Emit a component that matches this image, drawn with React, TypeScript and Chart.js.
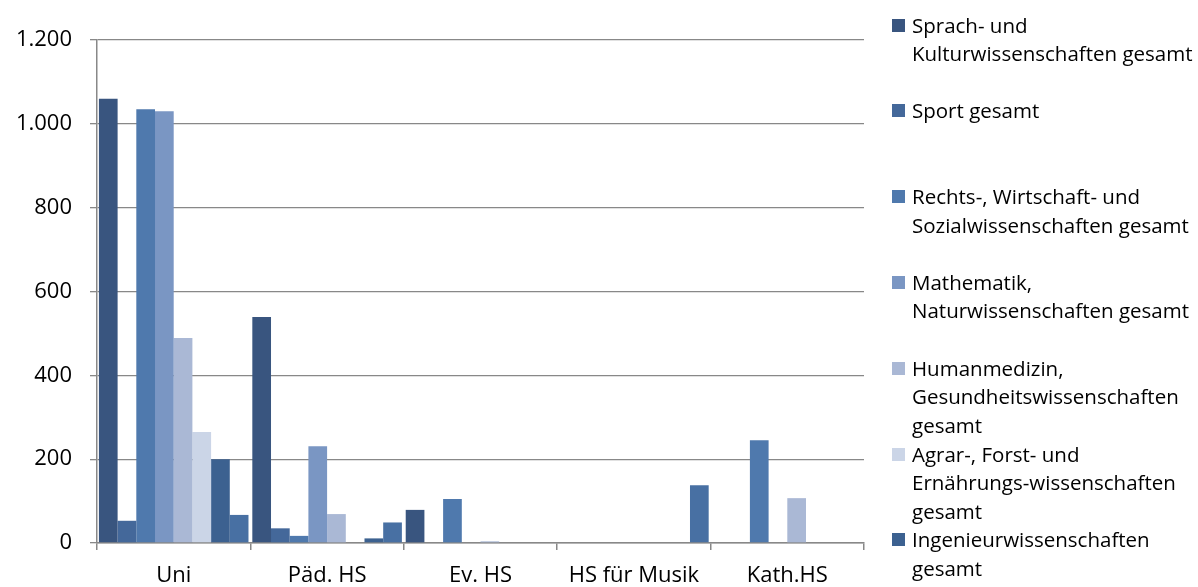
import React, { useEffect, useRef } from "react";
import { Chart, registerables } from "chart.js";

Chart.register(...registerables);

const categories = ["Uni", "Päd. HS", "Ev. HS", "HS für Musik", "Kath.HS"];

const seriesNames = [
  "Sprach- und\nKulturwissenschaften gesamt",
  "Sport gesamt",
  "Rechts-, Wirtschaft- und\nSozialwissenschaften gesamt",
  "Mathematik,\nNaturwissenschaften gesamt",
  "Humanmedizin,\nGesundheitswissenschaften\ngesamt",
  "Agrar-, Forst- und\nErnährungs-wissenschaften\ngesamt",
  "Ingenieurwissenschaften\ngesamt",
  "Kunst, Kunstwissenschaft\ngesamt",
];

const sprach = [1060, 539, 79, 0, 0];
const sport = [53, 35, 0, 0, 0];
const rechts = [1035, 17, 105, 0, 245];
const mathe = [1030, 231, 0, 0, 0];
const humanmed = [489, 69, 4, 0, 107];
const agrar = [265, 0, 0, 0, 0];
const ingenieur = [200, 11, 0, 0, 0];
const kunst = [67, 49, 0, 138, 0];

const seriesValues = [sprach, sport, rechts, mathe, humanmed, agrar, ingenieur, kunst];

const colors = [
  "#39557f",
  "#44689a",
  "#4f79ad",
  "#7a96c3",
  "#aab8d5",
  "#cbd5e7",
  "#3c6190",
  "#4870a3",
];

const yTickLabels = ["0", "200", "400", "600", "800", "1.000", "1.200"];

const FONT = "'Open Sans', sans-serif";

export default function App() {
  const ref = useRef<HTMLCanvasElement>(null);

  useEffect(() => {
    document.body.style.margin = "0";
    const chart = new Chart(ref.current!, {
      type: "bar",
      data: {
        labels: categories,
        datasets: seriesNames.map((n, i) => ({
          label: n,
          data: seriesValues[i],
          backgroundColor: colors[i],
          borderWidth: 0,
          categoryPercentage: 0.975,
          barPercentage: 1,
        })),
      },
      options: {
        animation: false,
        responsive: false,
        maintainAspectRatio: false,
        layout: { padding: { top: 40, right: 334, left: 0, bottom: 0 } },
        plugins: { legend: { display: false }, tooltip: { enabled: false } },
        scales: {
          x: {
            grid: {
              display: true,
              drawOnChartArea: false,
              drawTicks: true,
              tickLength: 7,
              color: "#888888",
              lineWidth: 1.5,
              offset: true,
            },
            border: { display: true, color: "#888888", width: 1.5 },
            ticks: {
              color: "#000000",
              font: { family: FONT, size: 22 },
              padding: 13,
              maxRotation: 0,
            },
            afterFit: (s: any) => {
              s.height = 44;
            },
          },
          y: {
            min: 0,
            max: 1200,
            grid: { color: "#888888", lineWidth: 1.3, tickLength: 7, drawTicks: true },
            border: { display: true, color: "#888888", width: 1.5 },
            ticks: {
              stepSize: 200,
              color: "#000000",
              font: { family: FONT, size: 22 },
              padding: 18,
              callback: (v: any) => yTickLabels[Math.round(Number(v) / 200)],
            },
            afterFit: (s: any) => {
              s.width = 97;
            },
          },
        },
      },
    });
    return () => chart.destroy();
  }, []);

  return (
    <div
      style={{
        position: "fixed",
        left: 0,
        top: 0,
        width: 1198,
        height: 587,
        overflow: "hidden",
        background: "#ffffff",
      }}
    >
      <canvas ref={ref} width={1198} height={587} style={{ width: 1198, height: 587 }} />
      {seriesNames.map((n, i) => (
        <div
          key={i}
          style={{
            position: "absolute",
            left: 892,
            top: 25 + i * 85.8 - 14.5,
            width: 306,
            fontFamily: FONT,
            fontSize: 20.5,
            lineHeight: "28.5px",
            color: "#000000",
            whiteSpace: "pre",
          }}
        >
          <span
            style={{
              position: "absolute",
              left: 0,
              top: 8,
              width: 13,
              height: 13,
              background: colors[i],
            }}
          />
          <div style={{ marginLeft: 20 }}>{n}</div>
        </div>
      ))}
    </div>
  );
}
